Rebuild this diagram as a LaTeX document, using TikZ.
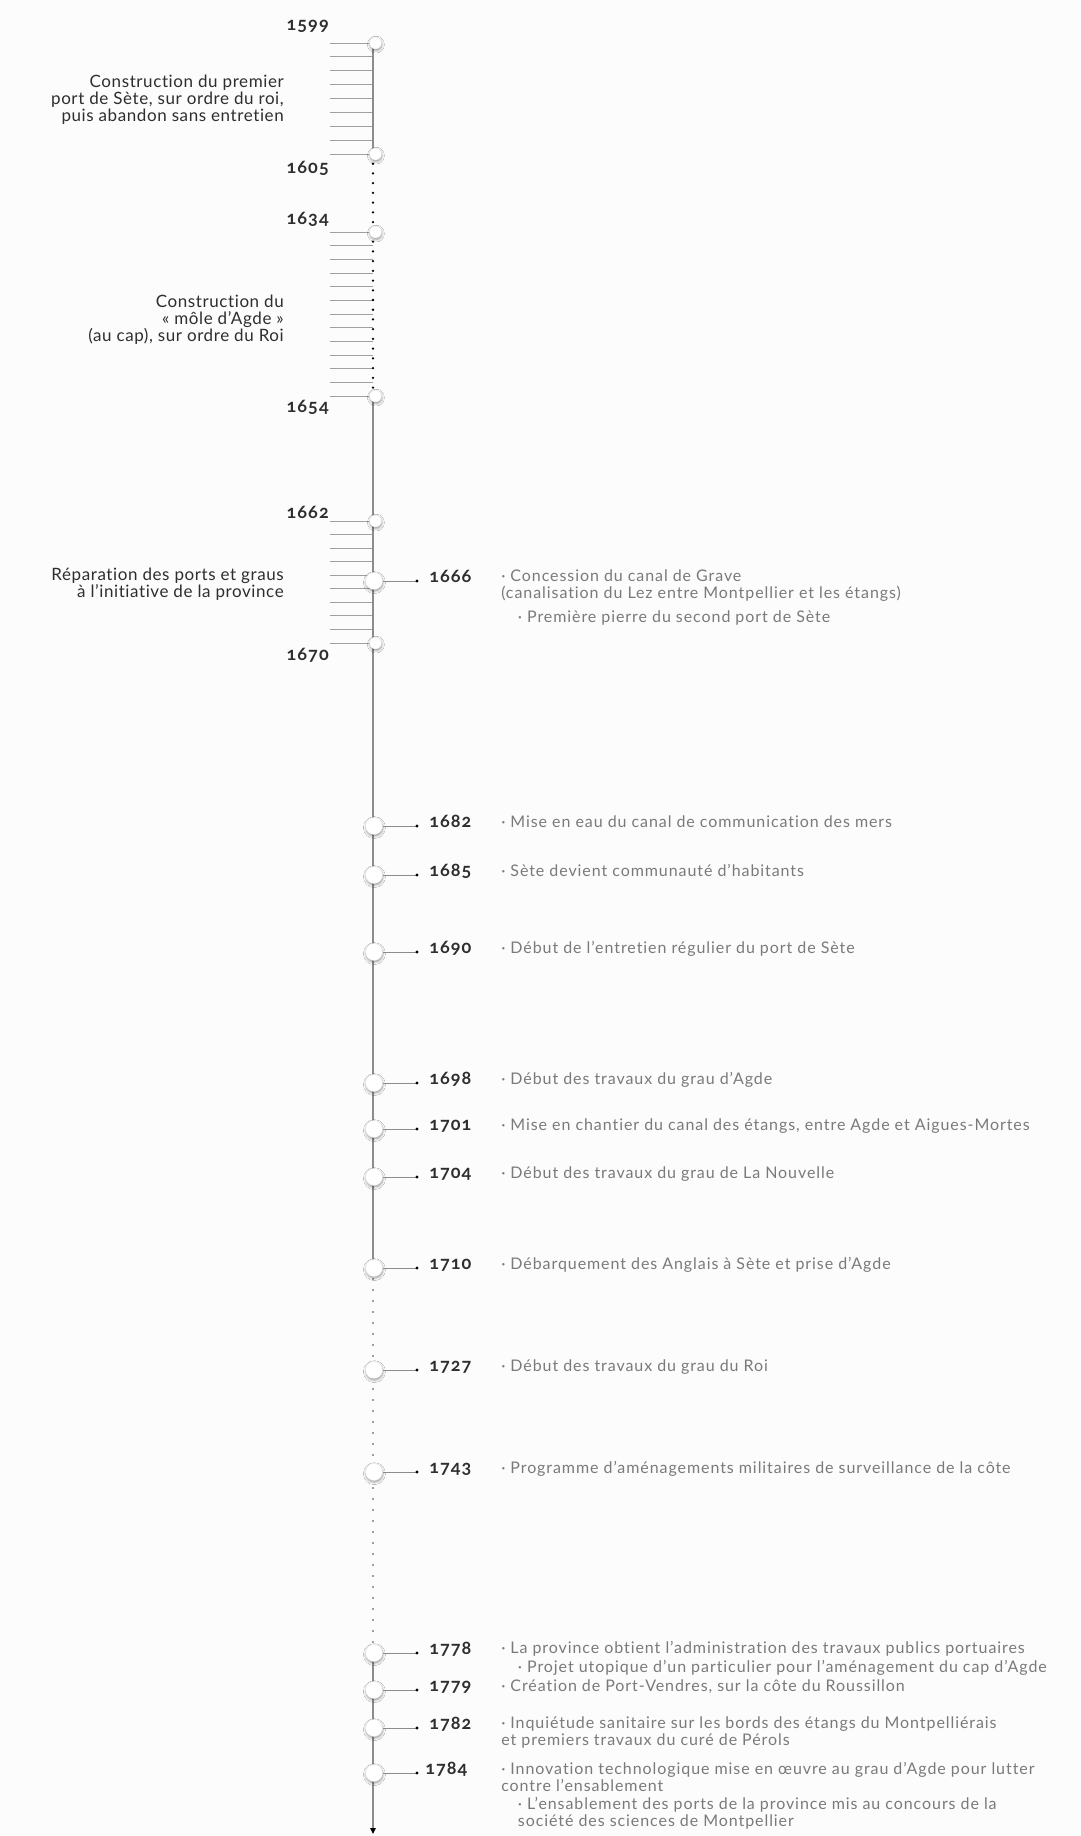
\documentclass[tikz,border=0pt]{standalone}
\usepackage{fontspec}
\setmainfont{Lato}[Ligatures=NoCommon]
\newfontfamily\yearfont{Lato}[Numbers=OldStyle, LetterSpace=6]
\newfontfamily\descfont{Lato}[LetterSpace=5.8, Ligatures=NoCommon]
\newfontfamily\labelfont{Lato}[LetterSpace=3.5, Ligatures=NoCommon]
\usetikzlibrary{shadows.blur,arrows.meta}
\definecolor{bgc}{HTML}{FCFCFC}
\definecolor{axisgray}{HTML}{8C8C8C}
\definecolor{hatchgray}{HTML}{A0A0A0}
\definecolor{desctext}{HTML}{7A7A7A}
\definecolor{darktext}{HTML}{2E2E2E}
\tikzset{
  axisline/.style={draw=axisgray, line width=1.1pt},
  hatchline/.style={draw=hatchgray, line width=0.7pt},
  blackdots/.style={draw=black, line width=1.9pt, line cap=round, dash pattern=on 0pt off 7.3pt},
  graydots/.style={draw=black!75, line width=1.4pt, line cap=round, dash pattern=on 0pt off 8.25pt},
  knob/.style={circle, fill=white, draw=black!12, line width=0.3pt, inner sep=0pt,
    blur shadow={shadow xshift=0.3pt, shadow yshift=-1.2pt, shadow blur radius=1.8pt}},
  smallknob/.style={knob, minimum size=9pt},
  bigknob/.style={knob, minimum size=12.8pt},
  conn/.style={draw=axisgray, line width=0.6pt},
  yearR/.style={anchor=base west, inner sep=0pt, text=darktext, font=\yearfont\bfseries\fontsize{13.5}{15}\selectfont},
  yearL/.style={anchor=base east, inner sep=0pt, text=darktext, font=\yearfont\bfseries\fontsize{13.5}{15}\selectfont},
  desc/.style={anchor=base west, inner sep=0pt, align=left, text=desctext, font=\descfont\fontsize{12}{12.4}\selectfont},
  sidelabel/.style={anchor=base east, inner sep=0pt, align=right, text=darktext, font=\labelfont\fontsize{12.75}{12.75}\selectfont},
}
\begin{document}
\begin{tikzpicture}[x=0.75pt,y=-0.75pt]
\fill[bgc] (0,0) rectangle (1081,1836);
\useasboundingbox (0,0) rectangle (1081,1836);

% axis anchor points
\coordinate (a1599) at (373,43);
\coordinate (a1605) at (373,154);
\coordinate (a1654) at (373,396);
\coordinate (a1710) at (373,1268);
\coordinate (a1778) at (373,1653);
\coordinate (aend) at (373,1834);

% hatches
\foreach \i in {0,...,8} \draw[hatchline] (330,{43+\i*13.875}) -- (373,{43+\i*13.875});
\foreach \i in {0,...,12} \draw[hatchline] (330,{232+\i*13.667}) -- (373,{232+\i*13.667});
\foreach \i in {0,...,9} \draw[hatchline] (330,{521+\i*13.556}) -- (373,{521+\i*13.556});

% axis
\draw[axisline] (a1599) -- (a1605);
\draw[blackdots] (a1605) -- (a1654);
\draw[axisline] (a1654) -- (a1710);
\draw[graydots] (a1710) -- (a1778);
\draw[axisline, -{Triangle[length=4.5pt,width=4pt,color=black]}] (a1778) -- (aend);

% small knobs
\node[smallknob] (k1599) at (375.5,43) {};
\node[smallknob] (k1605) at (375.5,154) {};
\node[smallknob] (k1634) at (375.5,232) {};
\node[smallknob] (k1654) at (375.5,396) {};
\node[smallknob] (k1662) at (375.5,521) {};
\node[smallknob] (k1670) at (375.5,643) {};

% left years
\node[yearL] (l1599) at (329,30) {1599};
\node[yearL] (l1605) at (329,173) {1605};
\node[yearL] (l1634) at (329,224) {1634};
\node[yearL] (l1654) at (329,412) {1654};
\node[yearL] (l1662) at (329,518) {1662};
\node[yearL] (l1670) at (329,660) {1670};

% left labels (base = last line baseline)
\node[sidelabel] (p1) at (284,121) {Construction du premier\\port de Sète, sur ordre du roi,\\puis abandon sans entretien};
\node[sidelabel] (p2) at (284,341) {Construction du\\« môle d’Agde »\\(au cap), sur ordre du Roi};
\node[sidelabel] (p3) at (284,597) {Réparation des ports et graus\\à l’initiative de la province};

% events
\foreach \yr/\yy in {1666/581,1682/826,1685/875,1690/952,1698/1083,1701/1129,1704/1177,1710/1268,1727/1370,1743/1472,1778/1653,1779/1690,1782/1728,1784/1773}{
  \node[bigknob] (k\yr) at (374,\yy) {};
  \coordinate (d\yr) at (417,\yy);
  \draw[conn] (k\yr) -- (d\yr);
  \fill[black] (d\yr) circle (1.2pt);
}

\node[yearR] (y1666) at (429,582) {1666};
\node[yearR] (y1682) at (429,827) {1682};
\node[yearR] (y1685) at (429,876) {1685};
\node[yearR] (y1690) at (429,953) {1690};
\node[yearR] (y1698) at (429,1084) {1698};
\node[yearR] (y1701) at (429,1130) {1701};
\node[yearR] (y1704) at (429,1178) {1704};
\node[yearR] (y1710) at (429,1269) {1710};
\node[yearR] (y1727) at (429,1371) {1727};
\node[yearR] (y1743) at (429,1473) {1743};
\node[yearR] (y1778) at (429,1654) {1778};
\node[yearR] (y1779) at (429,1691) {1779};
\node[yearR] (y1782) at (429,1729) {1782};
\node[yearR] (y1784) at (425,1774) {1784};

% descriptions (base = last line baseline)
\node[desc] (t1666) at (501,622) {· Concession du canal de Grave\\(canalisation du Lez entre Montpellier et les étangs)\\[5.5pt]\hspace*{12.5pt}· Première pierre du second port de Sète};
\node[desc] (t1682) at (501,827) {· Mise en eau du canal de communication des mers};
\node[desc] (t1685) at (501,876) {· Sète devient communauté d’habitants};
\node[desc] (t1690) at (501,953) {· Début de l’entretien régulier du port de Sète};
\node[desc] (t1698) at (501,1084) {· Début des travaux du grau d’Agde};
\node[desc] (t1701) at (501,1130) {· Mise en chantier du canal des étangs, entre Agde et Aigues-Mortes};
\node[desc] (t1704) at (501,1178) {· Début des travaux du grau de La Nouvelle};
\node[desc] (t1710) at (501,1269) {· Débarquement des Anglais à Sète et prise d’Agde};
\node[desc] (t1727) at (501,1371) {· Début des travaux du grau du Roi};
\node[desc] (t1743) at (501,1473) {· Programme d’aménagements militaires de surveillance de la côte};
\node[desc] (t1778) at (501,1672) {· La province obtient l’administration des travaux publics portuaires\\[1.2pt]\hspace*{12.5pt}· Projet utopique d’un particulier pour l’aménagement du cap d’Agde};
\node[desc] (t1779) at (501,1691) {· Création de Port-Vendres, sur la côte du Roussillon};
\node[desc] (t1782) at (501,1745.5) {· Inquiétude sanitaire sur les bords des étangs du Montpelliérais\\et premiers travaux du curé de Pérols};
\node[desc] (t1784) at (501,1826.5) {· Innovation technologique mise en œuvre au grau d’Agde pour lutter\\contre l’ensablement\\[1.5pt]\hspace*{12.5pt}· L’ensablement des ports de la province mis au concours de la\\\hspace*{12.5pt}société des sciences de Montpellier};
\end{tikzpicture}
\end{document}
